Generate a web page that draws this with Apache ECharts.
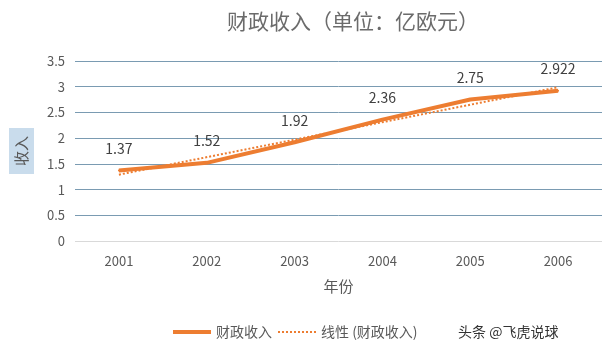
<!DOCTYPE html>
<html lang="zh">
<head>
  <meta charset="utf-8">
</head>
<body style="margin: 0">
  <div id="container" style="width: 612px; height: 352px"></div>
  <script src="https://cdn.jsdelivr.net/npm/echarts@6/dist/echarts.min.js"></script>
  <script>
    // values
    var years = ['2001', '2002', '2003', '2004', '2005', '2006'];
    var revenue = [1.37, 1.52, 1.92, 2.36, 2.75, 2.922];
    // linear trend, only its two ends
    var trend = [1.29, null, null, null, null, 2.99];

    var orange = '#ED7D31';
    var grey = '#595959';
    var font = '"Noto Sans CJK SC", "Noto Sans", sans-serif';

    // dotted legend icon: a row of small squares
    var dots = '';
    for (var i = 0; i < 10; i++) {
      var x0 = i * 4;
      dots += 'M' + x0 + ',0 L' + (x0 + 2) + ',0 L' + (x0 + 2) + ',2 L' + x0 + ',2 Z ';
    }

    var chart = echarts.init(document.getElementById('container'), null, { renderer: 'canvas' });
    var option = {
      backgroundColor: '#fff',
      animation: false,
      textStyle: { fontFamily: font },
      title: {
        text: '财政收入（单位：亿欧元）',
        left: 222,
        top: 6,
        textStyle: { fontSize: 21, fontWeight: 'normal', color: '#6b6b6b', fontFamily: font }
      },
      grid: { left: 75, right: 10, top: 61, bottom: 111 },
      legend: {
        bottom: 8,
        left: 168,
        itemWidth: 38,
        itemHeight: 10,
        itemGap: 6,
        textStyle: { fontSize: 14, color: grey, fontFamily: font },
        data: [
          { name: '财政收入', icon: 'path://M0,0 L40,0 L40,4 L0,4 Z', itemStyle: { color: orange } },
          { name: '线性 (财政收入)', icon: 'path://' + dots, itemStyle: { color: orange } }
        ]
      },
      graphic: [{
        type: 'text',
        left: 458,
        top: 325,
        style: { text: '头条 @飞虎说球', fontSize: 14, fill: '#333', fontFamily: font }
      }],
      xAxis: {
        type: 'category',
        data: years,
        name: '年份',
        nameLocation: 'middle',
        nameGap: 38,
        nameTextStyle: { fontSize: 15, color: grey },
        axisLine: { show: false },
        axisTick: { show: false },
        axisLabel: { fontSize: 13, color: grey, margin: 14 }
      },
      yAxis: {
        type: 'value',
        min: 0,
        max: 3.5,
        interval: 0.5,
        name: '收入',
        nameLocation: 'middle',
        nameRotate: 90,
        nameGap: 41,
        nameTextStyle: {
          fontSize: 15,
          color: grey,
          backgroundColor: '#c9dcec',
          padding: [5, 8, 5, 8]
        },
        axisLine: { show: false },
        axisTick: { show: false },
        axisLabel: { fontSize: 13, color: grey, margin: 10 },
        splitLine: {
          lineStyle: {
            width: 1,
            color: ['#d9d9d9', '#7a9bb2', '#7a9bb2', '#7a9bb2', '#7a9bb2', '#7a9bb2', '#7a9bb2', '#7a9bb2']
          }
        }
      },
      series: [
        {
          name: '财政收入',
          type: 'line',
          data: revenue,
          symbol: 'circle',
          symbolSize: 2,
          showSymbol: true,
          itemStyle: { color: orange },
          lineStyle: { width: 4, color: orange },
          label: {
            show: true,
            position: 'top',
            distance: 14,
            fontSize: 14,
            color: '#404040'
          },
          labelLayout: { hideOverlap: false },
          z: 3
        },
        {
          name: '线性 (财政收入)',
          type: 'line',
          data: trend,
          connectNulls: true,
          symbol: 'none',
          itemStyle: { color: orange },
          lineStyle: { width: 2, type: [2, 2], color: orange },
          z: 2
        }
      ]
    };
    chart.setOption(option);
  </script>
</body>
</html>
